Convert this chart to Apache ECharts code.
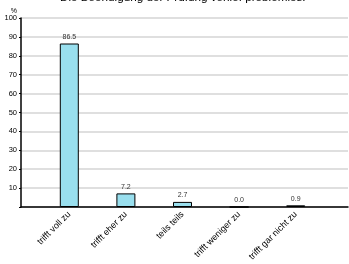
<!DOCTYPE html>
<html>
<head>
<meta charset="utf-8">
<script src="https://cdn.jsdelivr.net/npm/echarts@6/dist/echarts.min.js"></script>
<style>
  html, body { margin: 0; padding: 0; background: #fff; }
  #chart { width: 349px; height: 264px; }
</style>
</head>
<body>
<div id="chart"></div>
<script>
const categories = ['trifft voll zu', 'trifft eher zu', 'teils teils', 'trifft weniger zu', 'trifft gar nicht zu']
const values = [86.5, 7.2, 2.7, 0.0, 0.9]
const yTicks = [0, 10, 20, 30, 40, 50, 60, 70, 80, 90, 100]

const chart = echarts.init(document.getElementById('chart'))
const font = 'Liberation Sans, Arial, sans-serif'

let option = {
  animation: false,
  title: {
    text: 'Die Beendigung der Prüfung verlief problemlos.',
    left: 60,
    top: -8,
    padding: 0,
    textStyle: { fontSize: 11.7, fontWeight: 'normal', color: '#000', fontFamily: font }
  },
  grid: [
    { left: 21, right: 1, top: 18, bottom: 57 },
    { left: 41, right: 25, top: 18, bottom: 57 }
  ],
  xAxis: [
    {
      gridIndex: 0, type: 'value', min: 0, max: 1,
      axisLine: { show: true, lineStyle: { color: '#000', width: 1.5 } },
      axisTick: { show: false }, axisLabel: { show: false }, splitLine: { show: false }
    },
    {
      gridIndex: 1, type: 'category', data: categories,
      axisLine: { show: false }, axisTick: { show: false },
      axisLabel: { rotate: 45, fontSize: 9, color: '#000', fontFamily: font, margin: 6, interval: 0 }
    }
  ],
  yAxis: [
    {
      gridIndex: 0, type: 'value', min: yTicks[0], max: yTicks[yTicks.length - 1], interval: 10,
      name: '%', nameGap: 3,
      nameTextStyle: { fontSize: 7, color: '#000', fontFamily: font, align: 'right', padding: [0, 4, 0, 0] },
      axisLine: { show: true, lineStyle: { color: '#000', width: 1.5 } },
      axisTick: { show: true, length: 2, lineStyle: { color: '#000' } },
      axisLabel: {
        fontSize: 7.5, color: '#000', fontFamily: font, margin: 4,
        formatter: v => (v === 0 ? '' : String(v))
      },
      splitLine: { show: true, lineStyle: { color: '#d4d4d4', width: 1.5 } }
    },
    {
      gridIndex: 1, type: 'value', min: yTicks[0], max: yTicks[yTicks.length - 1],
      show: false
    }
  ],
  series: [
    {
      type: 'bar',
      xAxisIndex: 1, yAxisIndex: 1,
      data: values,
      barWidth: 19,
      itemStyle: { color: '#99dfee', borderColor: '#000', borderWidth: 1 },
      label: {
        show: true, position: 'top', distance: 3,
        fontSize: 7, color: '#333', fontFamily: font,
        formatter: p => p.value.toFixed(1)
      }
    }
  ]
}

chart.setOption(option)
</script>
</body>
</html>
